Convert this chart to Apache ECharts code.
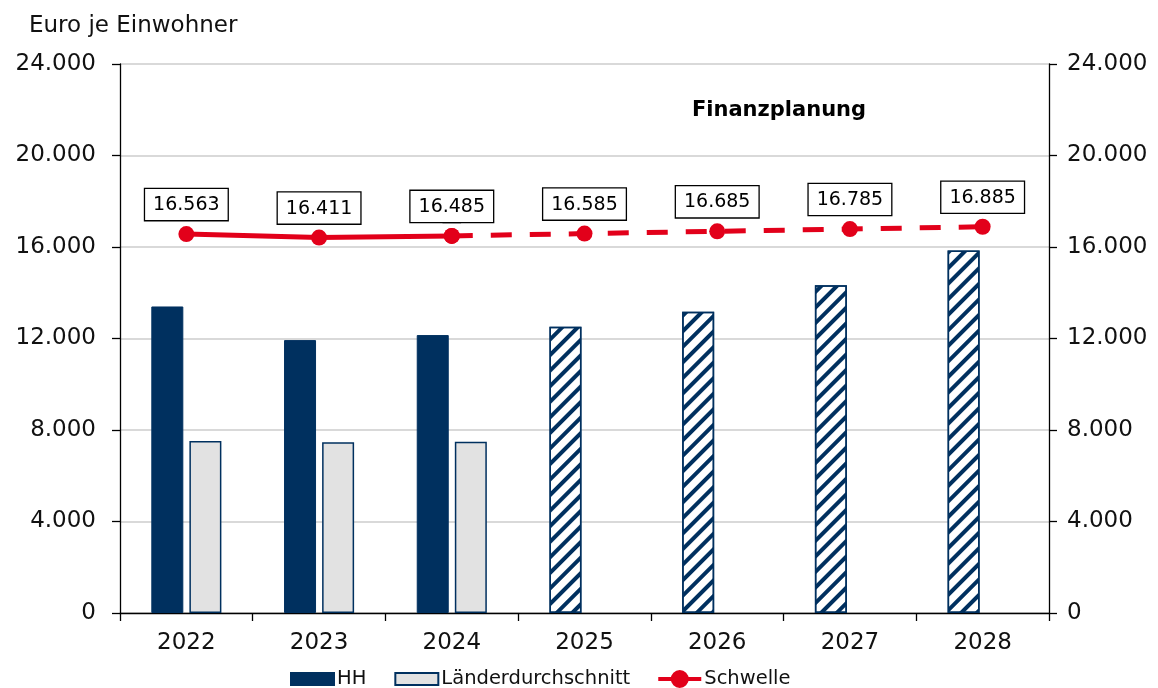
<!DOCTYPE html>
<html><head><meta charset="utf-8">
<script src="https://cdn.jsdelivr.net/npm/echarts@6/dist/echarts.min.js"></script>
<style>html,body{margin:0;padding:0;background:#fff}#c{width:1158px;height:688px}</style>
</head><body><div id="c"></div>
<script>
const categories = ['2022','2023','2024','2025','2026','2027','2028'];
const hhValues = [13400, 11930, 12150, 12510, 13170, 14330, 15850];
const planned = [false, false, false, true, true, true, true];
const laenderValues = [7520, 7460, 7490, null, null, null, null];
const schwelleActual = [16563, 16411, 16485, null, null, null, null];
const schwellePlan = [null, null, 16485, 16585, 16685, 16785, 16885];
const yTicks = [0, 4000, 8000, 12000, 16000, 20000, 24000];

const NAVY = '#00305f', RED = '#e2001a', FONT = 'DejaVu Sans';
const fmt = v => String(v).replace(/\B(?=(\d{3})+(?!\d))/g, '.');

const hatch = {symbol: 'rect', dashArrayX: [1, 0], dashArrayY: [4, 6.5], rotation: -Math.PI / 4, color: NAVY, symbolSize: 1};
const hhData = hhValues.map((v, i) => planned[i]
  ? {value: v, itemStyle: {color: '#ffffff', borderColor: NAVY, borderWidth: 1.5, decal: hatch}}
  : {value: v});

const labelBox = {
  show: true, position: 'top', distance: 6,
  formatter: p => fmt(p.value),
  color: '#000', fontFamily: FONT, fontSize: 19, lineHeight: 22,
  backgroundColor: '#fff', borderColor: '#000', borderWidth: 1.3,
  padding: [5, 8, 4, 8]
};

const yAxisBase = {
  type: 'value', min: yTicks[0], max: yTicks[yTicks.length - 1], interval: 4000,
  axisLine: {show: true, lineStyle: {color: '#000', width: 1.3}},
  axisTick: {show: true, length: 8, lineStyle: {color: '#000', width: 1.3}},
  axisLabel: {fontFamily: FONT, fontSize: 23, color: '#111', formatter: v => fmt(v)},
};

const rectIcon = 'path://M0,0 M43,18 M0,3 L43,3 L43,15 L0,15 Z';
const lineIcon = 'path://M0,0 M43,18 M0,7 L43,7 L43,11 L0,11 Z M12.5,9 A9,9 0 1,1 30.5,9 A9,9 0 1,1 12.5,9 Z';

const chart = echarts.init(document.getElementById('c'));
chart.setOption({
  animation: false,
  backgroundColor: '#fff',
  grid: {left: 120, right: 109, top: 64, bottom: 75, containLabel: false},
  graphic: [
    {type: 'text', left: 29, top: 15, style: {text: 'Euro je Einwohner', font: '23px "DejaVu Sans"', fill: '#111'}},
    {type: 'text', x: 779, y: 111, style: {text: 'Finanzplanung', font: 'bold 21px "DejaVu Sans"', fill: '#000', textAlign: 'center', textVerticalAlign: 'middle'}}
  ],
  legend: {
    left: 285, top: 664, itemGap: 28, itemWidth: 43, itemHeight: 18,
    data: [
      {name: 'HH', icon: rectIcon},
      {name: 'Länderdurchschnitt', icon: rectIcon},
      {name: 'Schwelle', icon: lineIcon, itemStyle: {color: RED, borderWidth: 0}}
    ],
    textStyle: {fontFamily: FONT, fontSize: 19.5, color: '#111', padding: [0, 0, 0, -2]}
  },
  xAxis: {
    type: 'category', data: categories,
    axisLine: {lineStyle: {color: '#000', width: 1.3}},
    axisTick: {show: true, length: 8, alignWithLabel: false, lineStyle: {color: '#000', width: 1.3}},
    axisLabel: {fontFamily: FONT, fontSize: 23, color: '#111', margin: 19}
  },
  yAxis: [
    Object.assign({}, yAxisBase, {position: 'left', axisLabel: Object.assign({}, yAxisBase.axisLabel, {margin: 24}),
      splitLine: {show: true, lineStyle: {color: '#d9d9d9', width: 2}}}),
    Object.assign({}, yAxisBase, {position: 'right', axisLabel: Object.assign({}, yAxisBase.axisLabel, {margin: 18}),
      splitLine: {show: false}})
  ],
  series: [
    {name: 'HH', type: 'bar', data: hhData, barWidth: 32, barGap: '19%', barCategoryGap: '47%',
      itemStyle: {color: NAVY, borderColor: NAVY, borderWidth: 1}},
    {name: 'Länderdurchschnitt', type: 'bar', data: laenderValues, barWidth: 32,
      itemStyle: {color: '#e2e2e2', borderColor: NAVY, borderWidth: 1.5}},
    {name: 'Schwelle', type: 'line', data: schwelleActual, symbol: 'circle', symbolSize: 16,
      itemStyle: {color: RED}, lineStyle: {color: RED, width: 5}, label: labelBox, z: 5},
    {name: 'Schwelle Plan', type: 'line', data: schwellePlan, symbol: 'circle', symbolSize: 16,
      itemStyle: {color: RED}, lineStyle: {color: RED, width: 5, type: [21, 18]},
      label: Object.assign({}, labelBox, {formatter: p => p.dataIndex < 3 ? '' : fmt(p.value)}), z: 4}
  ]
});
</script>
</body></html>
